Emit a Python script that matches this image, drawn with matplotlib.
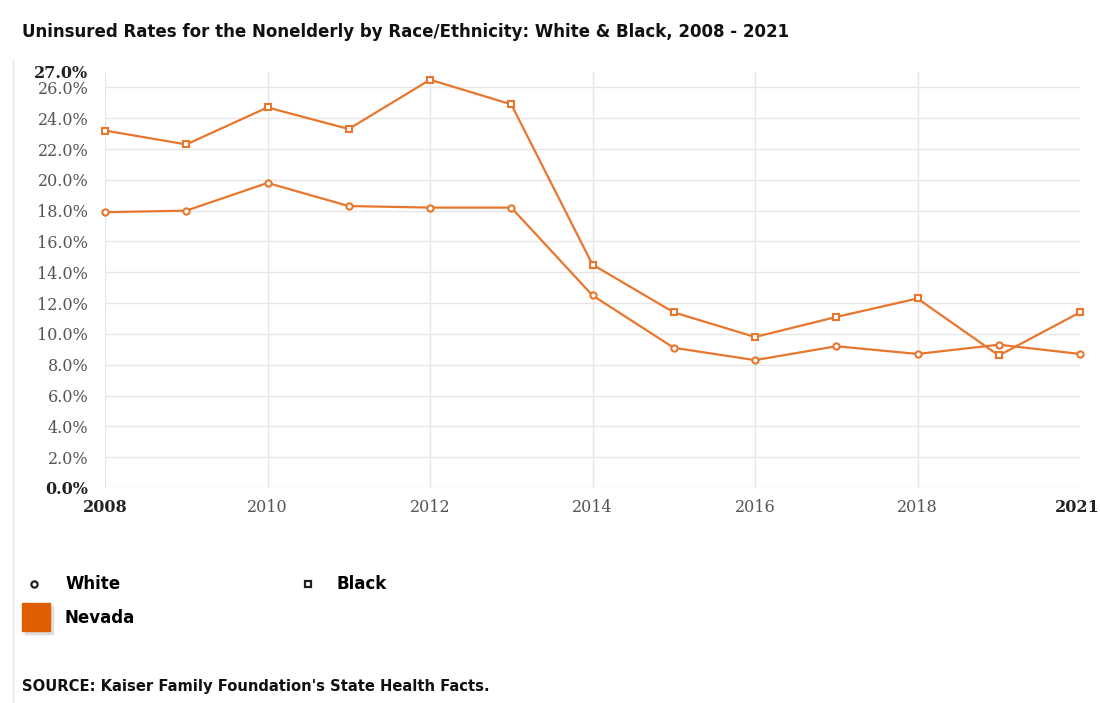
import matplotlib.pyplot as plt
import matplotlib.patches as mpatches
import matplotlib.transforms as mtransforms
from matplotlib.lines import Line2D

years = ['2008', '2009', '2010', '2011', '2012', '2013', '2014',
         '2015', '2016', '2017', '2018', '2019', '2021']
white = [17.9, 18.0, 19.8, 18.3, 18.2, 18.2, 12.5, 9.1, 8.3, 9.2, 8.7, 9.3, 8.7]
black = [23.2, 22.3, 24.7, 23.3, 26.5, 24.9, 14.5, 11.4, 9.8, 11.1, 12.3, 8.6, 11.4]

y_ticks = [0, 2, 4, 6, 8, 10, 12, 14, 16, 18, 20, 22, 24, 26, 27]
x_tick_idx = [0, 2, 4, 6, 8, 10, 12]

LINE = '#e8762d'
SWATCH = '#e05d00'

fig = plt.figure(figsize=(11, 7.03), dpi=100)
ax = fig.add_axes([105/1100, 1 - 488/703, 975/1100, 416/703])

x = list(range(len(years)))
ax.plot(x, white, color=LINE, lw=1.6, marker='o', ms=4.5,
        mfc='white', mec=LINE, mew=1.5, zorder=3, clip_on=False)
ax.plot(x, black, color=LINE, lw=1.6, marker='s', ms=4.2,
        mfc='white', mec=LINE, mew=1.5, zorder=3, clip_on=False)

ax.set_xlim(0, len(years) - 1)
ax.set_ylim(0, 27)

# gridlines: horizontal on every 2%, vertical on every other category
for v in range(0, 27, 2):
    ax.axhline(v, color='#e6e6e6', lw=1, zorder=0)
for i in x_tick_idx[:-1]:
    ax.axvline(i, color='#e6e6e6', lw=1, zorder=0)

ax.set_yticks(y_ticks)
ax.set_yticklabels([f'{v:.1f}%' for v in y_ticks])
ax.set_xticks(x_tick_idx)
ax.set_xticklabels([years[i] for i in x_tick_idx])
ax.tick_params(length=0, labelsize=11.5, labelcolor='#555555')
ax.tick_params(axis='y', pad=12)
ax.tick_params(axis='x', pad=8)
for lab in ax.get_yticklabels() + ax.get_xticklabels():
    lab.set_family('DejaVu Serif')
for lab in [ax.get_yticklabels()[0], ax.get_yticklabels()[-1],
            ax.get_xticklabels()[0], ax.get_xticklabels()[-1]]:
    lab.set_fontweight('bold')
    lab.set_color('#222222')
# keep the last year label inside the canvas
last = ax.get_xticklabels()[-1]
last.set_transform(last.get_transform() +
                   mtransforms.ScaledTranslation(-3/100, 0, fig.dpi_scale_trans))
for s in ax.spines.values():
    s.set_visible(False)

fig.text(22/1100, 1 - 32/703, 'Uninsured Rates for the Nonelderly by Race/Ethnicity: White & Black, 2008 - 2021',
         fontsize=12, fontweight='bold', va='center', color='#111111')

# legend
fig.add_artist(Line2D([34/1100], [1 - 584/703], marker='o', ms=4.5,
                      mfc='white', mec='#222222', mew=1.6, ls='none'))
fig.text(65/1100, 1 - 584/703, 'White', fontsize=12, fontweight='bold', va='center')
fig.add_artist(Line2D([308/1100], [1 - 584/703], marker='s', ms=4.2,
                      mfc='white', mec='#222222', mew=1.6, ls='none'))
fig.text(337/1100, 1 - 584/703, 'Black', fontsize=12, fontweight='bold', va='center')

fig.add_artist(mpatches.Rectangle((25/1100, 1 - 634/703), 28/1100, 28/703,
                                  color='#dddddd', transform=fig.transFigure))
fig.add_artist(mpatches.Rectangle((22/1100, 1 - 631/703), 28/1100, 28/703,
                                  color=SWATCH, transform=fig.transFigure))
fig.text(65/1100, 1 - 618/703, 'Nevada', fontsize=12, fontweight='bold', va='center')

fig.text(22/1100, 1 - 686/703, "SOURCE: Kaiser Family Foundation's State Health Facts.",
         fontsize=10.6, fontweight='bold', va='center', color='#111111')

# thin left border
fig.add_artist(Line2D([13/1100, 13/1100], [1 - 60/703, 0], color='#e6e6e6', lw=1))

fig.savefig('out.png', dpi=100)
